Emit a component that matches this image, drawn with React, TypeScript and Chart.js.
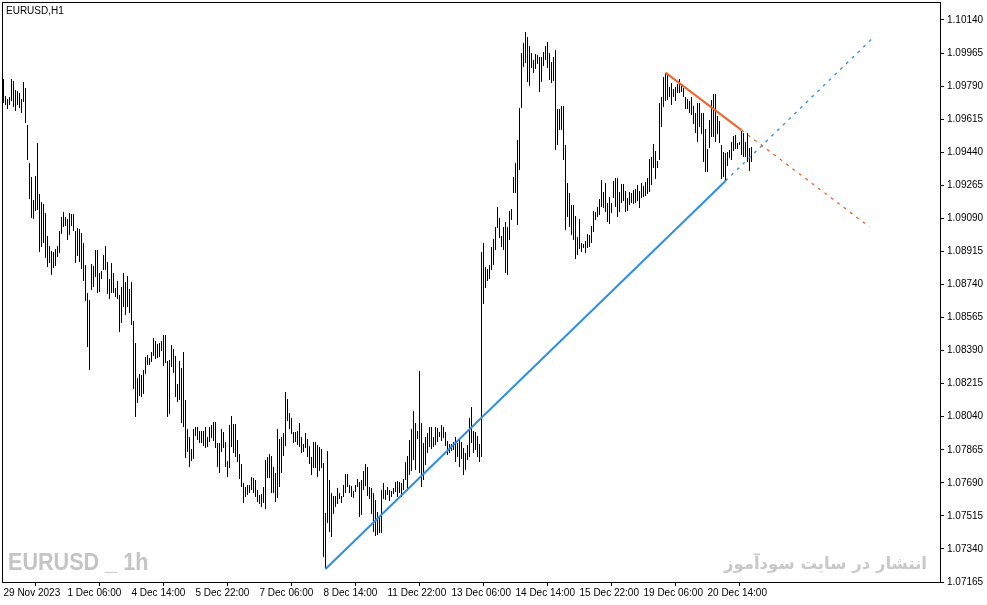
import { useEffect, useRef } from 'react';
import { Chart, registerables } from 'chart.js';

Chart.register(...registerables);

// EURUSD H1 bars, oldest first
const barHigh = [
  1.09827, 1.09737, 1.09722, 1.09732, 1.09827, 1.09817, 1.09769, 1.09764, 1.09753, 1.09722,
  1.09812, 1.09780, 1.09584, 1.09383, 1.09309, 1.09187, 1.09314, 1.09489, 1.09219, 1.09176,
  1.09166, 1.09118, 1.08996, 1.08943, 1.08917, 1.08912, 1.08928, 1.08943, 1.09023, 1.09097,
  1.09123, 1.09097, 1.09086, 1.09118, 1.09113, 1.09113, 1.09023, 1.09039, 1.09033, 1.09012,
  1.08959, 1.08843, 1.08695, 1.08658, 1.08848, 1.08838, 1.08922, 1.08922, 1.08801, 1.08811,
  1.08896, 1.08943, 1.08859, 1.08769, 1.08853, 1.08801, 1.08721, 1.08758, 1.08684, 1.08727,
  1.08801, 1.08753, 1.08785, 1.08716, 1.08753, 1.08546, 1.08430, 1.08245, 1.08266, 1.08261,
  1.08287, 1.08356, 1.08367, 1.08351, 1.08382, 1.08457, 1.08441, 1.08425, 1.08430, 1.08441,
  1.08472, 1.08472, 1.08335, 1.08340, 1.08420, 1.08398, 1.08361, 1.08213, 1.08335, 1.08298,
  1.08382, 1.08128, 1.07975, 1.07933, 1.07869, 1.07975, 1.07985, 1.07985, 1.07964, 1.07964,
  1.07964, 1.07985, 1.07933, 1.07985, 1.07996, 1.08012, 1.08012, 1.07901, 1.07901, 1.07975,
  1.07959, 1.07906, 1.07805, 1.07996, 1.08044, 1.08001, 1.08001, 1.07917, 1.07843, 1.07790,
  1.07689, 1.07668, 1.07678, 1.07678, 1.07721, 1.07716, 1.07705, 1.07652, 1.07625, 1.07631,
  1.07668, 1.07811, 1.07827, 1.07843, 1.07832, 1.07774, 1.07742, 1.07975, 1.07922, 1.07933,
  1.07954, 1.08171, 1.08134, 1.08060, 1.08033, 1.07959, 1.07959, 1.07964, 1.08007, 1.07933,
  1.07895, 1.07954, 1.07922, 1.07885, 1.07827, 1.07906, 1.07906, 1.07890, 1.07880, 1.07869,
  1.07795, 1.07530, 1.07858, 1.07705, 1.07636, 1.07620, 1.07620, 1.07663, 1.07636, 1.07620,
  1.07678, 1.07737, 1.07737, 1.07678, 1.07673, 1.07647, 1.07678, 1.07710, 1.07694, 1.07705,
  1.07753, 1.07790, 1.07774, 1.07668, 1.07663, 1.07636, 1.07599, 1.07536, 1.07509, 1.07652,
  1.07689, 1.07652, 1.07668, 1.07652, 1.07647, 1.07663, 1.07694, 1.07700, 1.07694, 1.07689,
  1.07710, 1.07800, 1.07832, 1.07917, 1.07975, 1.08070, 1.08007, 1.07964, 1.08282, 1.08007,
  1.07901, 1.07933, 1.07954, 1.07985, 1.07985, 1.07933, 1.07985, 1.07980, 1.07959, 1.07996,
  1.07985, 1.07959, 1.07911, 1.07895, 1.07895, 1.07906, 1.07933, 1.07901, 1.07927, 1.07906,
  1.07874, 1.07848, 1.07890, 1.08033, 1.08091, 1.07964, 1.07959, 1.07938, 1.07895, 1.08912,
  1.08959, 1.08832, 1.08822, 1.08843, 1.08938, 1.08981, 1.09044, 1.09150, 1.09092, 1.08996,
  1.09044, 1.09070, 1.09044, 1.09129, 1.09139, 1.09309, 1.09383, 1.09505, 1.09674, 1.09965,
  1.10018, 1.10076, 1.10050, 1.10002, 1.09965, 1.09928, 1.09960, 1.09954, 1.09944, 1.09944,
  1.09970, 1.10002, 1.10023, 1.09965, 1.09917, 1.09944, 1.09981, 1.09669, 1.09669, 1.09685,
  1.09685, 1.09478, 1.09277, 1.09224, 1.09161, 1.09161, 1.09102, 1.08991, 1.09086, 1.08959,
  1.08954, 1.08970, 1.09007, 1.09002, 1.09049, 1.09129, 1.09123, 1.09150, 1.09192, 1.09293,
  1.09229, 1.09277, 1.09171, 1.09203, 1.09171, 1.09288, 1.09303, 1.09303, 1.09229, 1.09272,
  1.09272, 1.09235, 1.09198, 1.09229, 1.09224, 1.09240, 1.09245, 1.09266, 1.09235, 1.09277,
  1.09261, 1.09282, 1.09303, 1.09404, 1.09415, 1.09483, 1.09446, 1.09393, 1.09700, 1.09732,
  1.09838, 1.09859, 1.09859, 1.09785, 1.09806, 1.09774, 1.09785, 1.09801, 1.09827, 1.09790,
  1.09780, 1.09732, 1.09722, 1.09711, 1.09732, 1.09685, 1.09647, 1.09700, 1.09700, 1.09647,
  1.09647, 1.09563, 1.09457, 1.09610, 1.09716, 1.09748, 1.09748, 1.09632, 1.09605, 1.09478,
  1.09441, 1.09436, 1.09441, 1.09452, 1.09494, 1.09526, 1.09531, 1.09489, 1.09494, 1.09552,
  1.09542, 1.09494, 1.09542, 1.09462, 1.09468,
];

const barLow = [
  1.09700, 1.09690, 1.09669, 1.09690, 1.09711, 1.09679, 1.09658, 1.09690, 1.09674, 1.09647,
  1.09706, 1.09594, 1.09399, 1.09192, 1.09092, 1.09086, 1.09129, 1.09134, 1.08912, 1.08938,
  1.08959, 1.08880, 1.08832, 1.08853, 1.08790, 1.08827, 1.08838, 1.08885, 1.08906, 1.09007,
  1.09044, 1.09049, 1.08975, 1.09002, 1.09049, 1.09023, 1.08853, 1.08891, 1.08859, 1.08822,
  1.08758, 1.08652, 1.08409, 1.08287, 1.08711, 1.08727, 1.08779, 1.08695, 1.08700, 1.08769,
  1.08816, 1.08816, 1.08689, 1.08663, 1.08695, 1.08695, 1.08674, 1.08663, 1.08488, 1.08536,
  1.08621, 1.08578, 1.08621, 1.08589, 1.08525, 1.08187, 1.08038, 1.08112, 1.08149, 1.08144,
  1.08160, 1.08266, 1.08314, 1.08314, 1.08329, 1.08361, 1.08345, 1.08351, 1.08356, 1.08388,
  1.08308, 1.08324, 1.08038, 1.08054, 1.08303, 1.08271, 1.08144, 1.08118, 1.08128, 1.08007,
  1.07985, 1.07821, 1.07853, 1.07774, 1.07805, 1.07816, 1.07938, 1.07917, 1.07901, 1.07901,
  1.07885, 1.07874, 1.07880, 1.07906, 1.07927, 1.07911, 1.07874, 1.07774, 1.07742, 1.07853,
  1.07874, 1.07774, 1.07721, 1.07768, 1.07880, 1.07848, 1.07827, 1.07800, 1.07710, 1.07668,
  1.07583, 1.07615, 1.07625, 1.07636, 1.07652, 1.07636, 1.07615, 1.07588, 1.07578, 1.07562,
  1.07583, 1.07551, 1.07716, 1.07716, 1.07636, 1.07636, 1.07588, 1.07610, 1.07668, 1.07742,
  1.07832, 1.07885, 1.08017, 1.07975, 1.07948, 1.07901, 1.07906, 1.07890, 1.07880, 1.07848,
  1.07853, 1.07874, 1.07827, 1.07790, 1.07731, 1.07768, 1.07768, 1.07721, 1.07753, 1.07768,
  1.07297, 1.07234, 1.07477, 1.07430, 1.07403, 1.07525, 1.07562, 1.07578, 1.07604, 1.07583,
  1.07615, 1.07636, 1.07668, 1.07636, 1.07615, 1.07610, 1.07641, 1.07668, 1.07509, 1.07520,
  1.07652, 1.07673, 1.07620, 1.07604, 1.07525, 1.07430, 1.07409, 1.07414, 1.07424, 1.07424,
  1.07604, 1.07599, 1.07625, 1.07594, 1.07615, 1.07631, 1.07641, 1.07615, 1.07636, 1.07615,
  1.07652, 1.07705, 1.07652, 1.07731, 1.07753, 1.07811, 1.07758, 1.07922, 1.07742, 1.07668,
  1.07705, 1.07784, 1.07848, 1.07880, 1.07869, 1.07880, 1.07890, 1.07906, 1.07933, 1.07911,
  1.07927, 1.07885, 1.07837, 1.07848, 1.07858, 1.07864, 1.07800, 1.07827, 1.07774, 1.07816,
  1.07731, 1.07758, 1.07811, 1.07827, 1.07901, 1.07848, 1.07864, 1.07827, 1.07800, 1.07827,
  1.08636, 1.08721, 1.08758, 1.08769, 1.08816, 1.08843, 1.08922, 1.09039, 1.08986, 1.08938,
  1.08922, 1.08801, 1.08790, 1.08975, 1.09081, 1.09224, 1.09224, 1.09055, 1.09346, 1.09674,
  1.09891, 1.09912, 1.09812, 1.09790, 1.09886, 1.09859, 1.09880, 1.09907, 1.09759, 1.09812,
  1.09896, 1.09928, 1.09886, 1.09822, 1.09806, 1.09817, 1.09452, 1.09478, 1.09557, 1.09557,
  1.09399, 1.09028, 1.09097, 1.09044, 1.09002, 1.08975, 1.08875, 1.08896, 1.08928, 1.08912,
  1.08933, 1.08906, 1.08933, 1.08938, 1.08959, 1.09018, 1.09081, 1.09097, 1.09108, 1.09150,
  1.09145, 1.09123, 1.09070, 1.09060, 1.09118, 1.09198, 1.09150, 1.09097, 1.09123, 1.09171,
  1.09182, 1.09123, 1.09129, 1.09161, 1.09171, 1.09166, 1.09171, 1.09182, 1.09145, 1.09198,
  1.09203, 1.09208, 1.09219, 1.09229, 1.09266, 1.09356, 1.09298, 1.09356, 1.09399, 1.09573,
  1.09679, 1.09711, 1.09716, 1.09732, 1.09690, 1.09732, 1.09711, 1.09753, 1.09753, 1.09759,
  1.09732, 1.09669, 1.09669, 1.09647, 1.09637, 1.09589, 1.09542, 1.09494, 1.09573, 1.09536,
  1.09388, 1.09335, 1.09335, 1.09462, 1.09520, 1.09520, 1.09494, 1.09536, 1.09489, 1.09298,
  1.09309, 1.09288, 1.09367, 1.09409, 1.09399, 1.09446, 1.09457, 1.09457, 1.09478, 1.09425,
  1.09415, 1.09415, 1.09388, 1.09340, 1.09388,
];

const timeLabels = [
  '29 Nov 2023', '1 Dec 06:00', '4 Dec 14:00', '5 Dec 22:00', '7 Dec 06:00', '8 Dec 14:00',
  '11 Dec 22:00', '13 Dec 06:00', '14 Dec 14:00', '15 Dec 22:00', '19 Dec 06:00', '20 Dec 14:00',
];
const timeLabelBars = [0, 32, 64, 96, 128, 160, 192, 224, 256, 288, 320, 352];

const priceTicks = [
  1.07165, 1.0734, 1.07515, 1.0769, 1.07865, 1.0804, 1.08215, 1.0839, 1.08565,
  1.0874, 1.08915, 1.0909, 1.09265, 1.0944, 1.09615, 1.0979, 1.09965, 1.1014,
];

// trend lines as [bar index] / [price] pairs
const supportBars = [161, 361];
const supportPrices = [1.07234, 1.09288];
const supportRayBars = [361, 434];
const supportRayPrices = [1.09288, 1.10038];
const resistBars = [331, 369];
const resistPrices = [1.09861, 1.09557];
const resistRayBars = [369, 433];
const resistRayPrices = [1.09557, 1.09045];

const toPoints = (xs: number[], ys: number[]) => xs.map((x, i) => ({ x, y: ys[i] }));

const framePlugin = {
  id: 'frame',
  afterDraw(chart: Chart) {
    const { ctx, chartArea } = chart;
    ctx.save();
    ctx.strokeStyle = '#000';
    ctx.lineWidth = 1;
    ctx.strokeRect(
      chartArea.left + 0.5,
      chartArea.top + 0.5,
      chartArea.right - chartArea.left,
      chartArea.bottom - chartArea.top
    );
    ctx.restore();
  },
};

export default function App() {
  const canvasRef = useRef<HTMLCanvasElement>(null);
  const chartRef = useRef<Chart | null>(null);

  useEffect(() => {
    if (!canvasRef.current) return;
    if (chartRef.current) chartRef.current.destroy();

    const ctx = canvasRef.current.getContext('2d');
    if (!ctx) return;

    const font = { family: "'Liberation Sans', Arial, sans-serif", size: 10 };

    chartRef.current = new Chart(ctx, {
      type: 'bar',
      data: {
        datasets: [
          {
            type: 'line',
            data: toPoints(supportBars, supportPrices),
            borderColor: '#2d8ee8',
            borderWidth: 2,
            pointRadius: 0,
          },
          {
            type: 'line',
            data: toPoints(supportRayBars, supportRayPrices),
            borderColor: '#2d8ee8',
            borderWidth: 1.3,
            borderDash: [3, 5],
            pointRadius: 0,
          },
          {
            type: 'line',
            data: toPoints(resistBars, resistPrices),
            borderColor: '#f0642a',
            borderWidth: 2,
            pointRadius: 0,
          },
          {
            type: 'line',
            data: toPoints(resistRayBars, resistRayPrices),
            borderColor: '#f0642a',
            borderWidth: 1.3,
            borderDash: [3, 5],
            pointRadius: 0,
          },
          {
            type: 'bar',
            data: barHigh.map((h, i) => ({ x: i, y: [barLow[i], h] })),
            backgroundColor: '#000',
            borderWidth: 0,
            barThickness: 1,
            inflateAmount: 0,
          },
        ],
      },
      options: {
        responsive: false,
        animation: false,
        events: [],
        layout: { padding: { left: 2, top: 2, right: 0, bottom: 0 } },
        plugins: {
          legend: { display: false },
          tooltip: { enabled: false },
        },
        scales: {
          x: {
            type: 'linear',
            min: -0.75,
            max: 468.25,
            offset: false,
            afterBuildTicks: (scale: any) => {
              scale.ticks = timeLabelBars.map((v) => ({ value: v }));
            },
            afterFit: (scale: any) => {
              scale.height = 23;
              scale.paddingLeft = 0;
              scale.paddingRight = 0;
            },
            ticks: {
              autoSkip: false,
              maxRotation: 0,
              minRotation: 0,
              align: 'start',
              padding: 1,
              color: '#000',
              font,
              callback: (_v: any, i: number) => timeLabels[i],
            },
            grid: { drawOnChartArea: false, drawTicks: true, tickLength: 4, color: '#000' },
            border: { color: '#000' },
          },
          y: {
            position: 'right',
            min: 1.07165,
            max: 1.10235,
            afterBuildTicks: (scale: any) => {
              scale.ticks = priceTicks.map((v) => ({ value: v }));
            },
            afterFit: (scale: any) => {
              scale.width = 47;
              scale.paddingTop = 0;
              scale.paddingBottom = 0;
            },
            ticks: {
              autoSkip: false,
              padding: 3,
              color: '#000',
              font,
              callback: (v: any) => Number(v).toFixed(5),
            },
            grid: { drawOnChartArea: false, drawTicks: true, tickLength: 4, color: '#000' },
            border: { color: '#000' },
          },
        },
      },
      plugins: [framePlugin],
    } as any);

    return () => {
      if (chartRef.current) {
        chartRef.current.destroy();
        chartRef.current = null;
      }
    };
  }, []);

  return (
    <div
      style={{
        position: 'absolute',
        left: 0,
        top: 0,
        width: 987,
        height: 605,
        background: '#fff',
        overflow: 'hidden',
      }}
    >
      <canvas ref={canvasRef} width={987} height={605} style={{ width: 987, height: 605, display: 'block' }} />
      <div
        style={{
          position: 'absolute',
          left: 6,
          top: 5,
          font: "10px 'Liberation Sans', Arial, sans-serif",
          lineHeight: '12px',
          color: '#000',
        }}
      >
        EURUSD,H1
      </div>
      <div
        style={{
          position: 'absolute',
          left: 8,
          top: 550,
          font: "bold 24px 'Liberation Sans', Arial, sans-serif",
          lineHeight: '24px',
          color: '#c4c4c4',
          whiteSpace: 'pre',
          transform: 'scaleX(0.9)',
          transformOrigin: 'left top',
        }}
      >
        EURUSD _ 1h
      </div>
      <div
        dir="rtl"
        style={{
          position: 'absolute',
          right: 60,
          top: 554,
          font: "bold 16.5px 'DejaVu Sans', sans-serif",
          lineHeight: '20px',
          color: '#c8c8c8',
          whiteSpace: 'nowrap',
        }}
      >
        انتشار در سایت سودآموز
      </div>
    </div>
  );
}
